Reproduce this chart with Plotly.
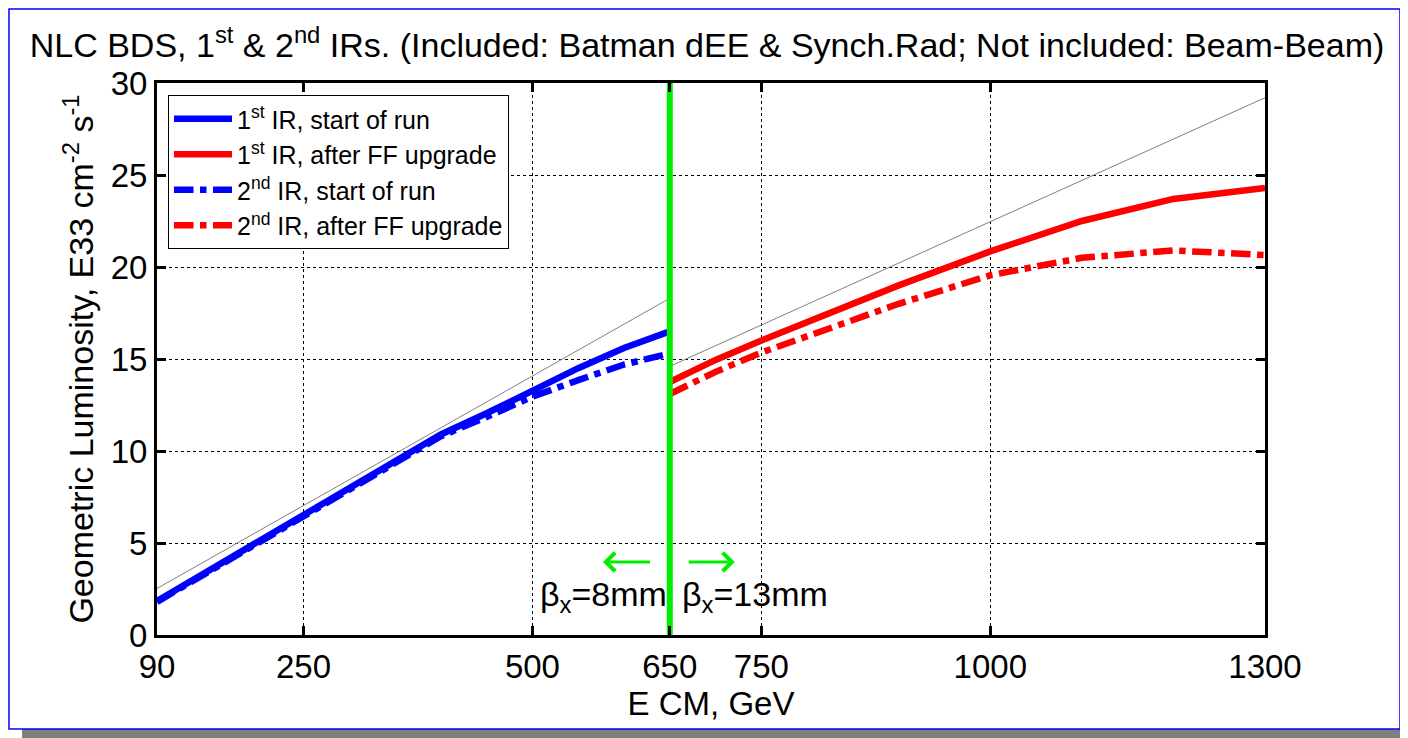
import plotly.graph_objects as go

# ---------------- data ----------------
e_start = [90, 150, 200, 250, 300, 350, 400, 450, 500, 550, 600, 650]
lum_ir1_start = [1.85, 3.6, 5.05, 6.5, 8.0, 9.45, 10.9, 12.05, 13.3, 14.5, 15.6, 16.5]
lum_ir2_start = [1.8, 3.55, 5.0, 6.45, 7.95, 9.4, 10.8, 11.85, 12.95, 13.85, 14.7, 15.3]

e_upg = [650, 700, 750, 800, 900, 1000, 1100, 1200, 1300]
lum_ir1_upg = [13.75, 14.95, 16.0, 17.0, 19.0, 20.85, 22.5, 23.7, 24.3]
lum_ir2_upg = [13.1, 14.3, 15.35, 16.25, 18.0, 19.55, 20.5, 20.9, 20.65]

e_ideal_lo = [90, 650]
lum_ideal_lo = [2.53, 18.3]
e_ideal_hi = [650, 1300]
lum_ideal_hi = [14.6, 29.2]

e_switch = [650, 650]
lum_switch = [0, 30]

x_ticks = [90, 250, 500, 650, 750, 1000, 1300]
y_ticks = [0, 5, 10, 15, 20, 25, 30]

arrow_left = (630, 577, 3.97)   # from x, to x, y
arrow_right = (669, 721, 3.97)
label_y = 2.07

# ---------------- layout constants ----------------
OFF = 8                      # page body margin
W, H = 1408 - OFF, 738 - OFF
L, R, T, B = 157 - OFF, 1265 - OFF, 83 - OFF, 635 - OFF
FONT = "Liberation Sans, Arial, sans-serif"
GREEN = "#00ee00"


def px2paper_x(px):
    """window pixel x -> paper coordinate"""
    return (px - OFF - L) / (R - L)


def px2paper_y(py):
    return (B - (py - OFF)) / (B - T)


fig = go.Figure()

fig.add_trace(go.Scatter(x=e_ideal_lo, y=lum_ideal_lo, mode="lines",
                         line=dict(color="#808080", width=1), showlegend=False, hoverinfo="skip"))
fig.add_trace(go.Scatter(x=e_ideal_hi, y=lum_ideal_hi, mode="lines",
                         line=dict(color="#808080", width=1), showlegend=False, hoverinfo="skip"))

fig.add_trace(go.Scatter(x=e_start, y=lum_ir1_start, mode="lines", name="1<sup>st</sup> IR, start of run",
                         line=dict(color="#0000ff", width=6.5)))
fig.add_trace(go.Scatter(x=e_upg, y=lum_ir1_upg, mode="lines", name="1<sup>st</sup> IR, after FF upgrade",
                         line=dict(color="#ff0000", width=6.5)))
fig.add_trace(go.Scatter(x=e_start, y=lum_ir2_start, mode="lines", name="2<sup>nd</sup> IR, start of run",
                         line=dict(color="#0000ff", width=6.5, dash="dashdot")))
fig.add_trace(go.Scatter(x=e_upg, y=lum_ir2_upg, mode="lines", name="2<sup>nd</sup> IR, after FF upgrade",
                         line=dict(color="#ff0000", width=6.5, dash="dashdot")))

fig.add_trace(go.Scatter(x=e_switch, y=lum_switch, mode="lines",
                         line=dict(color=GREEN, width=6), showlegend=False, hoverinfo="skip"))

# frame with shadow
shapes = [
    dict(type="rect", xref="paper", yref="paper", layer="below",
         x0=px2paper_x(22), x1=px2paper_x(1408), y0=px2paper_y(738), y1=px2paper_y(22),
         fillcolor="#808080", line=dict(width=0)),
    dict(type="rect", xref="paper", yref="paper", layer="below",
         x0=px2paper_x(9), x1=px2paper_x(1400), y0=px2paper_y(729), y1=px2paper_y(9),
         fillcolor="white", line=dict(color="#0000ff", width=1.5)),
]

annotations = [
    dict(x=arrow_left[1], y=arrow_left[2], ax=arrow_left[0], ay=arrow_left[2],
         xref="x", yref="y", axref="x", ayref="y", text="", showarrow=True,
         arrowhead=4, arrowsize=1.2, arrowwidth=3, arrowcolor=GREEN),
    dict(x=arrow_right[1], y=arrow_right[2], ax=arrow_right[0], ay=arrow_right[2],
         xref="x", yref="y", axref="x", ayref="y", text="", showarrow=True,
         arrowhead=4, arrowsize=1.2, arrowwidth=3, arrowcolor=GREEN),
    dict(x=e_switch[0], y=label_y, xref="x", yref="y", text="β<sub>x</sub>=8mm",
         showarrow=False, xanchor="right", yanchor="middle", xshift=-1,
         font=dict(family=FONT, size=34, color="black")),
    dict(x=e_switch[0], y=label_y, xref="x", yref="y", text="β<sub>x</sub>=13mm",
         showarrow=False, xanchor="left", yanchor="middle", xshift=10,
         font=dict(family=FONT, size=34, color="black")),
]

fig.update_layout(
    width=W, height=H,
    margin=dict(l=L, r=W - R, t=T, b=H - B, pad=0),
    paper_bgcolor="white",
    plot_bgcolor="rgba(0,0,0,0)",
    font=dict(family=FONT, color="black"),
    title=dict(text="NLC BDS, 1<sup>st</sup> & 2<sup>nd</sup> IRs. (Included: Batman dEE & Synch.Rad; Not included: Beam-Beam)",
               x=px2paper_x(707), xref="paper", xanchor="center", y=1 - (45 - OFF) / H, yanchor="middle",
               font=dict(family=FONT, size=34, color="black")),
    shapes=shapes,
    annotations=annotations,
    legend=dict(x=px2paper_x(168), y=px2paper_y(95), xanchor="left", yanchor="top",
                bgcolor="white", bordercolor="black", borderwidth=1,
                font=dict(family=FONT, size=25, color="black"), itemwidth=58,
                tracegroupgap=0),
    xaxis=dict(range=[90, 1300], tickmode="array", tickvals=x_ticks,
               ticktext=[str(v) for v in x_ticks],
               showgrid=True, gridcolor="black", griddash="dot", gridwidth=1,
               zeroline=False, showline=True, linecolor="black", linewidth=3,
               mirror="ticks", ticks="inside", ticklen=9, tickwidth=3, tickcolor="black",
               tickfont=dict(family=FONT, size=33, color="black"),
               title=dict(text="E CM, GeV", font=dict(family=FONT, size=33, color="black"), standoff=4)),
    yaxis=dict(range=[0, 30], tickmode="array", tickvals=y_ticks,
               showgrid=True, gridcolor="black", griddash="dot", gridwidth=1,
               zeroline=False, showline=True, linecolor="black", linewidth=3,
               mirror="ticks", ticks="inside", ticklen=9, tickwidth=3, tickcolor="black",
               tickfont=dict(family=FONT, size=33, color="black"),
               title=dict(text="Geometric Luminosity, E33 cm<sup>-2</sup> s<sup>-1</sup>",
                          font=dict(family=FONT, size=34, color="black"), standoff=7)),
)

fig.write_html("out.html")
